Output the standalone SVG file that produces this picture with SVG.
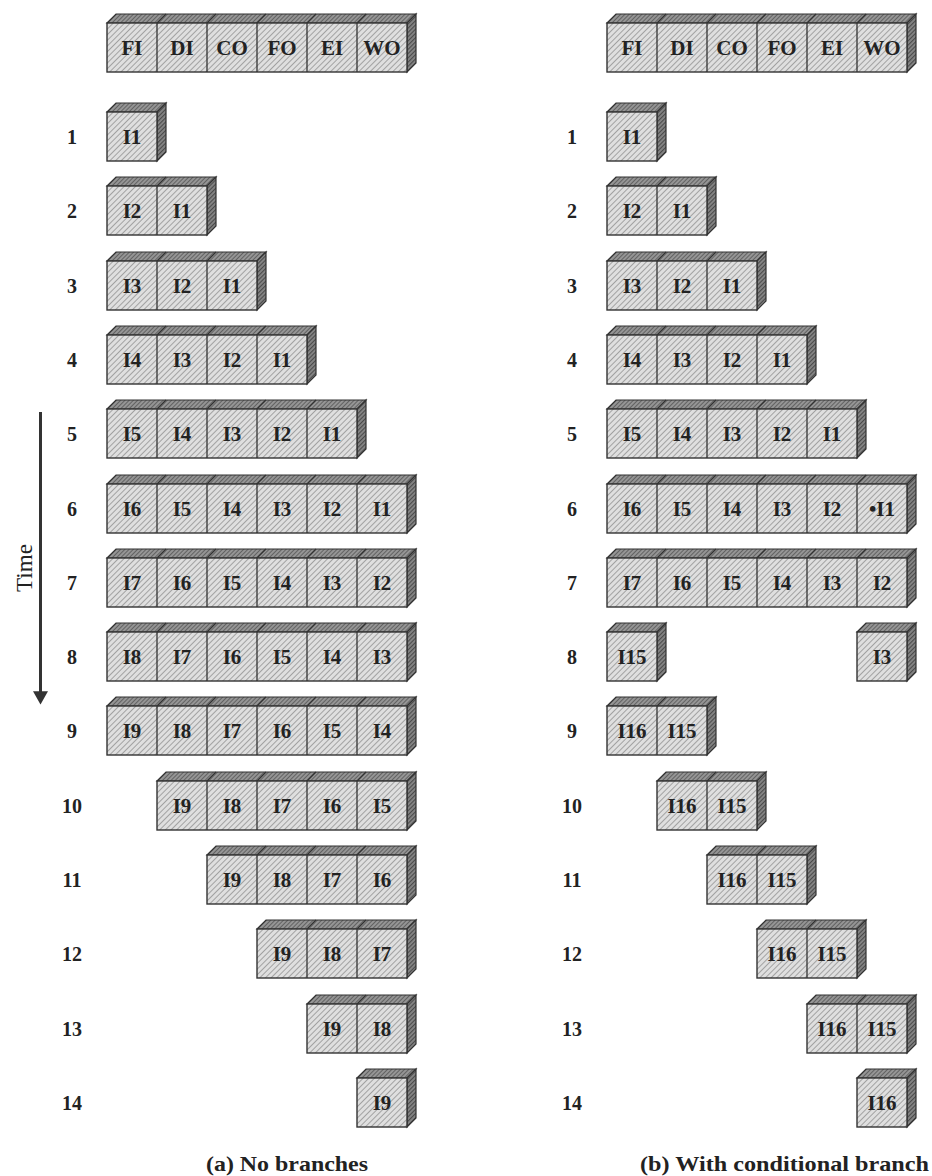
<svg xmlns="http://www.w3.org/2000/svg" xmlns:xlink="http://www.w3.org/1999/xlink" width="932" height="1176" viewBox="0 0 932 1176">
<style>
.fr{fill:url(#hf);stroke:#333;stroke-width:1.4}
.tp{fill:url(#ht);stroke:#333;stroke-width:1.2}
.sd{fill:url(#hs);stroke:#333;stroke-width:1.2}
.dv{fill:none;stroke:#333;stroke-width:1.3}
.c{font-family:"Liberation Serif","Times New Roman",serif;font-weight:bold;font-size:21px;text-anchor:middle;fill:#222}
.h{font-family:"Liberation Serif","Times New Roman",serif;font-weight:bold;font-size:21px;text-anchor:middle;fill:#222}
.n{font-family:"Liberation Serif","Times New Roman",serif;font-weight:bold;font-size:20px;text-anchor:middle;fill:#222}
.cap{font-family:"Liberation Serif","Times New Roman",serif;font-weight:bold;font-size:21px;fill:#222}
.t{font-family:"Liberation Serif","Times New Roman",serif;font-size:23px;text-anchor:middle;fill:#222}
</style>
<defs>
<pattern id="hf" width="4" height="4" patternUnits="userSpaceOnUse" patternTransform="rotate(45)"><rect width="4" height="4" fill="#dfdfdf"/><line x1="0.5" y1="0" x2="0.5" y2="4" stroke="#a2a2a2" stroke-width="1"/></pattern>
<pattern id="ht" width="3" height="3" patternUnits="userSpaceOnUse" patternTransform="rotate(45)"><rect width="3" height="3" fill="#959595"/><line x1="0.5" y1="0" x2="0.5" y2="3" stroke="#626262" stroke-width="1"/></pattern>
<pattern id="hs" width="3" height="3" patternUnits="userSpaceOnUse" patternTransform="rotate(45)"><rect width="3" height="3" fill="#858585"/><line x1="0.5" y1="0" x2="0.5" y2="3" stroke="#4a4a4a" stroke-width="1.2"/></pattern>
<marker id="ah" viewBox="0 0 10 10" refX="2" refY="5" markerWidth="4.4" markerHeight="5" markerUnits="strokeWidth" orient="auto" preserveAspectRatio="none"><path d="M0,0L10,5L0,10Z" fill="#333"/></marker>
<g id="s1"><polygon class="tp" points="0,0 9,-9 59,-9 50,0"/><polygon class="sd" points="50,0 59,-9 59,40 50,49"/><rect class="fr" width="50" height="49"/></g>
<g id="s2"><polygon class="tp" points="0,0 9,-9 109,-9 100,0"/><polygon class="sd" points="100,0 109,-9 109,40 100,49"/><rect class="fr" width="100" height="49"/><path class="dv" d="M50,0V49M50,0l9,-9"/></g>
<g id="s3"><polygon class="tp" points="0,0 9,-9 159,-9 150,0"/><polygon class="sd" points="150,0 159,-9 159,40 150,49"/><rect class="fr" width="150" height="49"/><path class="dv" d="M50,0V49M50,0l9,-9M100,0V49M100,0l9,-9"/></g>
<g id="s4"><polygon class="tp" points="0,0 9,-9 209,-9 200,0"/><polygon class="sd" points="200,0 209,-9 209,40 200,49"/><rect class="fr" width="200" height="49"/><path class="dv" d="M50,0V49M50,0l9,-9M100,0V49M100,0l9,-9M150,0V49M150,0l9,-9"/></g>
<g id="s5"><polygon class="tp" points="0,0 9,-9 259,-9 250,0"/><polygon class="sd" points="250,0 259,-9 259,40 250,49"/><rect class="fr" width="250" height="49"/><path class="dv" d="M50,0V49M50,0l9,-9M100,0V49M100,0l9,-9M150,0V49M150,0l9,-9M200,0V49M200,0l9,-9"/></g>
<g id="s6"><polygon class="tp" points="0,0 9,-9 309,-9 300,0"/><polygon class="sd" points="300,0 309,-9 309,40 300,49"/><rect class="fr" width="300" height="49"/><path class="dv" d="M50,0V49M50,0l9,-9M100,0V49M100,0l9,-9M150,0V49M150,0l9,-9M200,0V49M200,0l9,-9M250,0V49M250,0l9,-9"/></g>
</defs>
<rect width="932" height="1176" fill="#ffffff"/>

<!-- (a) No branches -->
<g id="a-header" transform="translate(107,23)"><use xlink:href="#s6"/><text class="h" x="25" y="32">FI</text><text class="h" x="75" y="32">DI</text><text class="h" x="125" y="32">CO</text><text class="h" x="175" y="32">FO</text><text class="h" x="225" y="32">EI</text><text class="h" x="275" y="32">WO</text></g>
<g id="a-row1" transform="translate(107,112)"><use xlink:href="#s1"/><text class="c" x="25" y="32">I1</text></g>
<g id="a-row2" transform="translate(107,186)"><use xlink:href="#s2"/><text class="c" x="25" y="32">I2</text><text class="c" x="75" y="32">I1</text></g>
<g id="a-row3" transform="translate(107,261)"><use xlink:href="#s3"/><text class="c" x="25" y="32">I3</text><text class="c" x="75" y="32">I2</text><text class="c" x="125" y="32">I1</text></g>
<g id="a-row4" transform="translate(107,335)"><use xlink:href="#s4"/><text class="c" x="25" y="32">I4</text><text class="c" x="75" y="32">I3</text><text class="c" x="125" y="32">I2</text><text class="c" x="175" y="32">I1</text></g>
<g id="a-row5" transform="translate(107,409)"><use xlink:href="#s5"/><text class="c" x="25" y="32">I5</text><text class="c" x="75" y="32">I4</text><text class="c" x="125" y="32">I3</text><text class="c" x="175" y="32">I2</text><text class="c" x="225" y="32">I1</text></g>
<g id="a-row6" transform="translate(107,484)"><use xlink:href="#s6"/><text class="c" x="25" y="32">I6</text><text class="c" x="75" y="32">I5</text><text class="c" x="125" y="32">I4</text><text class="c" x="175" y="32">I3</text><text class="c" x="225" y="32">I2</text><text class="c" x="275" y="32">I1</text></g>
<g id="a-row7" transform="translate(107,558)"><use xlink:href="#s6"/><text class="c" x="25" y="32">I7</text><text class="c" x="75" y="32">I6</text><text class="c" x="125" y="32">I5</text><text class="c" x="175" y="32">I4</text><text class="c" x="225" y="32">I3</text><text class="c" x="275" y="32">I2</text></g>
<g id="a-row8" transform="translate(107,632)"><use xlink:href="#s6"/><text class="c" x="25" y="32">I8</text><text class="c" x="75" y="32">I7</text><text class="c" x="125" y="32">I6</text><text class="c" x="175" y="32">I5</text><text class="c" x="225" y="32">I4</text><text class="c" x="275" y="32">I3</text></g>
<g id="a-row9" transform="translate(107,706)"><use xlink:href="#s6"/><text class="c" x="25" y="32">I9</text><text class="c" x="75" y="32">I8</text><text class="c" x="125" y="32">I7</text><text class="c" x="175" y="32">I6</text><text class="c" x="225" y="32">I5</text><text class="c" x="275" y="32">I4</text></g>
<g id="a-row10" transform="translate(157,781)"><use xlink:href="#s5"/><text class="c" x="25" y="32">I9</text><text class="c" x="75" y="32">I8</text><text class="c" x="125" y="32">I7</text><text class="c" x="175" y="32">I6</text><text class="c" x="225" y="32">I5</text></g>
<g id="a-row11" transform="translate(207,855)"><use xlink:href="#s4"/><text class="c" x="25" y="32">I9</text><text class="c" x="75" y="32">I8</text><text class="c" x="125" y="32">I7</text><text class="c" x="175" y="32">I6</text></g>
<g id="a-row12" transform="translate(257,929)"><use xlink:href="#s3"/><text class="c" x="25" y="32">I9</text><text class="c" x="75" y="32">I8</text><text class="c" x="125" y="32">I7</text></g>
<g id="a-row13" transform="translate(307,1004)"><use xlink:href="#s2"/><text class="c" x="25" y="32">I9</text><text class="c" x="75" y="32">I8</text></g>
<g id="a-row14" transform="translate(357,1078)"><use xlink:href="#s1"/><text class="c" x="25" y="32">I9</text></g>

<!-- (b) With conditional branch -->
<g id="b-header" transform="translate(607,23)"><use xlink:href="#s6"/><text class="h" x="25" y="32">FI</text><text class="h" x="75" y="32">DI</text><text class="h" x="125" y="32">CO</text><text class="h" x="175" y="32">FO</text><text class="h" x="225" y="32">EI</text><text class="h" x="275" y="32">WO</text></g>
<g id="b-row1" transform="translate(607,112)"><use xlink:href="#s1"/><text class="c" x="25" y="32">I1</text></g>
<g id="b-row2" transform="translate(607,186)"><use xlink:href="#s2"/><text class="c" x="25" y="32">I2</text><text class="c" x="75" y="32">I1</text></g>
<g id="b-row3" transform="translate(607,261)"><use xlink:href="#s3"/><text class="c" x="25" y="32">I3</text><text class="c" x="75" y="32">I2</text><text class="c" x="125" y="32">I1</text></g>
<g id="b-row4" transform="translate(607,335)"><use xlink:href="#s4"/><text class="c" x="25" y="32">I4</text><text class="c" x="75" y="32">I3</text><text class="c" x="125" y="32">I2</text><text class="c" x="175" y="32">I1</text></g>
<g id="b-row5" transform="translate(607,409)"><use xlink:href="#s5"/><text class="c" x="25" y="32">I5</text><text class="c" x="75" y="32">I4</text><text class="c" x="125" y="32">I3</text><text class="c" x="175" y="32">I2</text><text class="c" x="225" y="32">I1</text></g>
<g id="b-row6" transform="translate(607,484)"><use xlink:href="#s6"/><text class="c" x="25" y="32">I6</text><text class="c" x="75" y="32">I5</text><text class="c" x="125" y="32">I4</text><text class="c" x="175" y="32">I3</text><text class="c" x="225" y="32">I2</text><text class="c" x="275" y="32">•I1</text></g>
<g id="b-row7" transform="translate(607,558)"><use xlink:href="#s6"/><text class="c" x="25" y="32">I7</text><text class="c" x="75" y="32">I6</text><text class="c" x="125" y="32">I5</text><text class="c" x="175" y="32">I4</text><text class="c" x="225" y="32">I3</text><text class="c" x="275" y="32">I2</text></g>
<g id="b-row8-fi" transform="translate(607,632)"><use xlink:href="#s1"/><text class="c" x="25" y="32">I15</text></g>
<g id="b-row8-wo" transform="translate(857,632)"><use xlink:href="#s1"/><text class="c" x="25" y="32">I3</text></g>
<g id="b-row9" transform="translate(607,706)"><use xlink:href="#s2"/><text class="c" x="25" y="32">I16</text><text class="c" x="75" y="32">I15</text></g>
<g id="b-row10" transform="translate(657,781)"><use xlink:href="#s2"/><text class="c" x="25" y="32">I16</text><text class="c" x="75" y="32">I15</text></g>
<g id="b-row11" transform="translate(707,855)"><use xlink:href="#s2"/><text class="c" x="25" y="32">I16</text><text class="c" x="75" y="32">I15</text></g>
<g id="b-row12" transform="translate(757,929)"><use xlink:href="#s2"/><text class="c" x="25" y="32">I16</text><text class="c" x="75" y="32">I15</text></g>
<g id="b-row13" transform="translate(807,1004)"><use xlink:href="#s2"/><text class="c" x="25" y="32">I16</text><text class="c" x="75" y="32">I15</text></g>
<g id="b-row14" transform="translate(857,1078)"><use xlink:href="#s1"/><text class="c" x="25" y="32">I16</text></g>

<!-- row numbers -->
<g id="a-labels">
<text class="n" x="72" y="144">1</text><text class="n" x="72" y="218">2</text><text class="n" x="72" y="293">3</text><text class="n" x="72" y="367">4</text><text class="n" x="72" y="441">5</text><text class="n" x="72" y="516">6</text><text class="n" x="72" y="590">7</text><text class="n" x="72" y="664">8</text><text class="n" x="72" y="738">9</text><text class="n" x="72" y="813">10</text><text class="n" x="72" y="887">11</text><text class="n" x="72" y="961">12</text><text class="n" x="72" y="1036">13</text><text class="n" x="72" y="1110">14</text>
</g>
<g id="b-labels">
<text class="n" x="572" y="144">1</text><text class="n" x="572" y="218">2</text><text class="n" x="572" y="293">3</text><text class="n" x="572" y="367">4</text><text class="n" x="572" y="441">5</text><text class="n" x="572" y="516">6</text><text class="n" x="572" y="590">7</text><text class="n" x="572" y="664">8</text><text class="n" x="572" y="738">9</text><text class="n" x="572" y="813">10</text><text class="n" x="572" y="887">11</text><text class="n" x="572" y="961">12</text><text class="n" x="572" y="1036">13</text><text class="n" x="572" y="1110">14</text>
</g>

<!-- time axis -->
<g id="connectors">
<line x1="40.5" y1="412" x2="40.5" y2="694" stroke="#333" stroke-width="3" marker-end="url(#ah)"/>
</g>
<text class="t" x="32" y="568" transform="rotate(-90 32 568)">Time</text>

<!-- captions -->
<text class="cap" x="206" y="1171" textLength="162" lengthAdjust="spacingAndGlyphs">(a) No branches</text>
<text class="cap" x="640" y="1171" textLength="289" lengthAdjust="spacingAndGlyphs">(b) With conditional branch</text>
</svg>
